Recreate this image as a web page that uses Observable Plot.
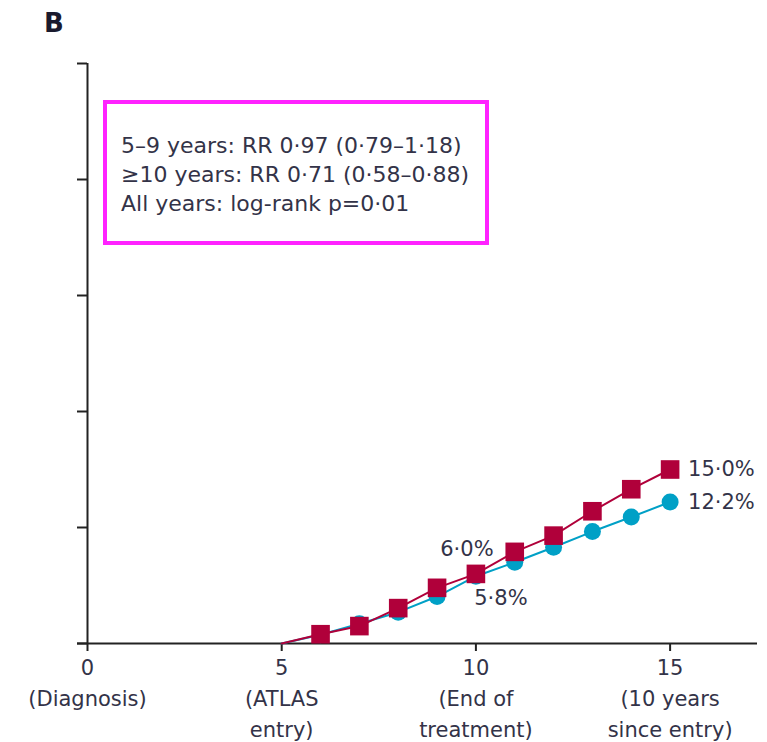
<!DOCTYPE html>
<html>
<head>
<meta charset="utf-8">
<script src="https://cdn.jsdelivr.net/npm/d3@7"></script>
<script src="https://cdn.jsdelivr.net/npm/@observablehq/plot@0.6"></script>
<style>
  body { margin: 0; background: #fff; }
  #wrap { position: relative; width: 767px; height: 742px; font-family: "DejaVu Sans", sans-serif; }
  #panel { position: absolute; left: 44px; top: 8px; font-size: 26px; font-weight: bold; color: #1a1a2e; }
  #box { position: absolute; left: 103px; top: 100px; width: 378px; height: 137px; border: 4px solid #ff22ff; box-sizing: content-box; }
  #box div { position: absolute; left: 14px; font-size: 22px; line-height: 26px; color: #333348; white-space: nowrap; }
</style>
</head>
<body>
<div id="wrap">
  <div id="chart"></div>
  <div id="panel">B</div>
  <div id="box"></div>
</div>
<script>
// Years since diagnosis
const years = [5, 6, 7, 8, 9, 10, 11, 12, 13, 14, 15];
// Cumulative risk (%) - continued tamoxifen to 10 years (red squares)
const riskContinue = [0, 0.8, 1.5, 3.05, 4.8, 6.0, 7.9, 9.3, 11.4, 13.3, 15.0];
// Cumulative risk (%) - stopped at 5 years (blue circles)
const riskStop = [0, 0.75, 1.7, 2.7, 4.05, 5.8, 7.0, 8.3, 9.65, 10.9, 12.2];

const xTicks = [0, 5, 10, 15];
const xTickLabels = ["0\n(Diagnosis)", "5\n(ATLAS\nentry)", "10\n(End of\ntreatment)", "15\n(10 years\nsince entry)"];
const yTicks = [0, 10, 20, 30, 40, 50];

const statLines = [
  "5–9 years: RR 0·97 (0·79–1·18)",
  "≥10 years: RR 0·71 (0·58–0·88)",
  "All years: log-rank p=0·01"
];

const red = "#b0003a";
const blue = "#00a0c6";

const stopData = years.map((t, i) => ({ t, v: riskStop[i] }));
const contData = years.map((t, i) => ({ t, v: riskContinue[i] }));
const fmt = v => v.toFixed(1).replace(".", "·") + "%";

const labels = [
  { t: 15, v: riskContinue[10], dx: 18, dy: 0, anchor: "start" },
  { t: 15, v: riskStop[10], dx: 18, dy: 0, anchor: "start" },
  { t: 10, v: riskContinue[5], dx: -9, dy: -25, anchor: "middle" },
  { t: 10, v: riskStop[5], dx: 25, dy: 22, anchor: "middle" }
];

const chart = Plot.plot({
  width: 767,
  height: 742,
  marginLeft: 87,
  marginRight: 10,
  marginTop: 63,
  marginBottom: 99,
  style: { fontFamily: "'DejaVu Sans', sans-serif", color: "#333348", background: "#fff" },
  x: { domain: [0, 17.25] },
  y: { domain: [0, 50] },
  marks: [
    Plot.axisX({ ticks: xTicks, tickSize: 8, tickPadding: 2, tickFormat: d => xTickLabels[xTicks.indexOf(d)], fontSize: 21, lineHeight: 1.47, stroke: "#222", strokeWidth: 2, label: null }),
    Plot.axisY({ ticks: yTicks, tickSize: 10, tickFormat: () => "", stroke: "#222", strokeWidth: 2, label: null }),
    Plot.ruleX([0], { stroke: "#222", strokeWidth: 2 }),
    Plot.ruleY([0], { stroke: "#222", strokeWidth: 2, insetLeft: -10 }),
    Plot.line(stopData, { x: "t", y: "v", stroke: blue, strokeWidth: 2 }),
    Plot.dot(stopData.filter(d => d.t > 5), { x: "t", y: "v", r: 8.5, fill: blue, symbol: "circle" }),
    Plot.line(contData, { x: "t", y: "v", stroke: red, strokeWidth: 2 }),
    Plot.dot(contData.filter(d => d.t > 5), { x: "t", y: "v", r: 10.5, fill: red, symbol: "square" }),
    ...labels.map(l => Plot.text([l], { x: "t", y: "v", text: d => fmt(d.v), dx: l.dx, dy: l.dy, textAnchor: l.anchor, fontSize: 21, fill: "#333348" }))
  ]
});
document.getElementById("chart").appendChild(chart);

const box = document.getElementById("box");
statLines.forEach((s, i) => {
  const el = document.createElement("div");
  el.textContent = s;
  el.style.top = (29 + i * 29) + "px";
  box.appendChild(el);
});
</script>
</body>
</html>
